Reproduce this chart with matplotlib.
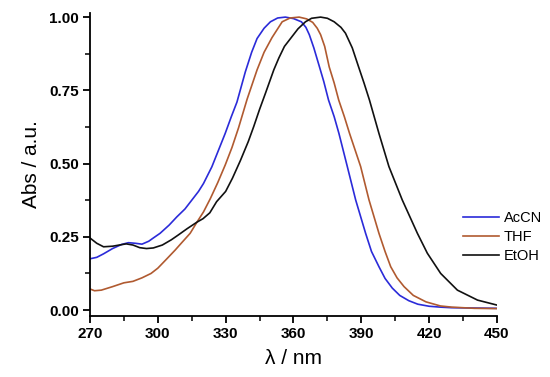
import matplotlib.pyplot as plt
from matplotlib.ticker import MultipleLocator

plt.rcParams["font.family"] = ["Liberation Sans", "DejaVu Sans"]

# AcCN
wl_accn = [270, 273, 276, 280, 284, 287, 290, 293, 296, 298, 301, 305, 308.4,
           312, 315, 318, 320.2, 323.9, 326.8, 329.8, 332.5, 335, 338.7, 341.5,
           343.9, 347, 349.8, 353, 356.4, 360, 363.5, 365.5, 367, 369, 371.5,
           373.4, 375.5, 378, 380.1, 383.8, 387.5, 391.9, 394.5, 397.8, 400.5,
           403.7, 407, 411, 415, 420, 425, 430, 440, 450]
abs_accn = [0.175, 0.18, 0.192, 0.21, 0.224, 0.23, 0.228, 0.225, 0.235, 0.246,
            0.262, 0.29, 0.318, 0.345, 0.375, 0.405, 0.432, 0.489, 0.545, 0.603,
            0.66, 0.71, 0.813, 0.88, 0.927, 0.962, 0.984, 0.997, 1.0, 0.995,
            0.984, 0.965, 0.94, 0.895, 0.83, 0.78, 0.717, 0.66, 0.603, 0.49,
            0.376, 0.262, 0.2, 0.148, 0.108, 0.075, 0.05, 0.032, 0.02, 0.013,
            0.01, 0.008, 0.007, 0.006]

# THF
wl_thf = [270, 272, 275, 280, 285, 289, 293, 297, 300, 304, 307.7, 310, 314.3,
          317.3, 320.2, 323.2, 326.5, 329.8, 332.8, 335.7, 339.5, 343.9, 347,
          350.5, 355, 358.5, 362.5, 365.8, 368.5, 370.5, 372, 373.8, 375.8,
          378, 380, 382.5, 384.8, 389.7, 393.4, 397.8, 400.5, 403, 405.8,
          408.9, 413, 418.6, 425, 430, 440, 450]
abs_thf = [0.072, 0.066, 0.068, 0.08, 0.093, 0.098, 0.11, 0.125, 0.143, 0.175,
           0.205, 0.225, 0.262, 0.3, 0.335, 0.38, 0.435, 0.495, 0.555, 0.622,
           0.72, 0.82, 0.88, 0.93, 0.984, 0.997, 1.0, 0.994, 0.982, 0.962,
           0.94, 0.9, 0.83, 0.775, 0.717, 0.66, 0.603, 0.49, 0.376, 0.262,
           0.2, 0.148, 0.11, 0.08, 0.05, 0.028, 0.014, 0.01, 0.006, 0.005]

# EtOH
wl_etoh = [270, 273, 276, 280, 283, 286, 289, 292, 295, 298, 302, 306, 309,
           313, 317.3, 320, 323, 326, 330, 333, 336.5, 340, 342.4, 345, 347.6,
           351.3, 353.5, 356, 358.7, 362, 365.3, 368, 372, 375, 378, 381, 383,
           386, 388.8, 391.2, 393.6, 397.8, 402.2, 408.1, 414.8, 419.2, 425.1,
           432.5, 441.4, 450]
abs_etoh = [0.246, 0.228, 0.216, 0.218, 0.222, 0.226, 0.222, 0.213, 0.21,
            0.212, 0.222, 0.24, 0.256, 0.278, 0.3, 0.312, 0.332, 0.37, 0.405,
            0.45, 0.51, 0.575, 0.626, 0.685, 0.74, 0.82, 0.86, 0.9, 0.927,
            0.96, 0.984, 0.996, 1.0, 0.996, 0.984, 0.965, 0.945, 0.895, 0.83,
            0.775, 0.717, 0.603, 0.49, 0.376, 0.262, 0.194, 0.125, 0.068,
            0.034, 0.017]

fig = plt.figure(figsize=(5.5, 3.77), dpi=100)
ax = fig.add_axes([0.1636, 0.162, 0.74, 0.8035])

ax.plot(wl_accn, abs_accn, color="#2b2bd9", lw=1.2, label="AcCN")
ax.plot(wl_thf, abs_thf, color="#b05a30", lw=1.2, label="THF")
ax.plot(wl_etoh, abs_etoh, color="#111111", lw=1.2, label="EtOH")

ax.set_xlim(270, 450)
ax.set_ylim(-0.02, 1.014)
ax.xaxis.set_major_locator(MultipleLocator(30))
ax.xaxis.set_minor_locator(MultipleLocator(15))
ax.yaxis.set_major_locator(MultipleLocator(0.25))
ax.yaxis.set_minor_locator(MultipleLocator(0.125))
ax.yaxis.set_major_formatter(lambda v, p: f"{v:.2f}")

for s in ["top", "right"]:
    ax.spines[s].set_visible(False)
for s in ["left", "bottom"]:
    ax.spines[s].set_linewidth(1.3)

ax.tick_params(which="major", direction="out", length=5, width=1.3,
               labelsize=11, pad=3)
ax.tick_params(which="minor", direction="out", length=3.5, width=1.1)
for lab in ax.get_xticklabels() + ax.get_yticklabels():
    lab.set_fontweight("bold")

ax.set_xlabel("λ / nm", fontsize=15, labelpad=6)
ax.set_ylabel("Abs / a.u.", fontsize=15, labelpad=6)

ax.legend(loc="upper left", bbox_to_anchor=(463 / 550, 1 - 211 / 377),
          bbox_transform=fig.transFigure, frameon=False, fontsize=10.5,
          handlelength=2.5, handletextpad=0.3, labelspacing=0.35,
          borderpad=0, borderaxespad=0)

fig.savefig("out.png", dpi=100)
